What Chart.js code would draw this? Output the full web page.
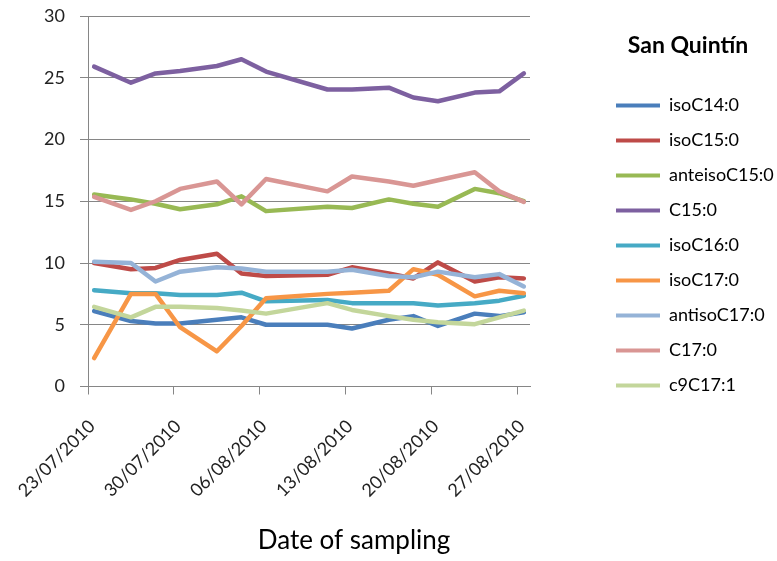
<!DOCTYPE html>
<html><head><meta charset="utf-8">
<script src="https://cdn.jsdelivr.net/npm/chart.js@4.4.1/dist/chart.umd.min.js"></script>
<style>html,body{margin:0;padding:0;background:#fff;}#wrap{position:relative;width:777px;height:561px;}</style>
</head><body><div id="wrap"><canvas id="c"></canvas></div>
<script>
const sampleDates = ['23/07/2010','26/07/2010','28/07/2010','30/07/2010','02/08/2010','04/08/2010','06/08/2010','11/08/2010','13/08/2010','16/08/2010','18/08/2010','20/08/2010','23/08/2010','25/08/2010','27/08/2010'];
const tickLabels = ['23/07/2010','30/07/2010','06/08/2010','13/08/2010','20/08/2010','27/08/2010'];
const yTicks = [0, 5, 10, 15, 20, 25, 30];

const isoC14_0     = [6.1, 5.3, 5.1, 5.1, 5.4, 5.6, 5.0, 5.0, 4.7, 5.4, 5.7, 4.9, 5.9, 5.7, 6.0];
const isoC15_0     = [10.0, 9.5, 9.6, 10.25, 10.75, 9.15, 8.95, 9.05, 9.65, 9.15, 8.75, 10.05, 8.5, 8.85, 8.75];
const anteisoC15_0 = [15.55, 15.15, 14.8, 14.35, 14.75, 15.4, 14.2, 14.55, 14.45, 15.15, 14.8, 14.55, 16.0, 15.65, 15.0];
const C15_0        = [25.9, 24.6, 25.35, 25.55, 25.95, 26.5, 25.5, 24.05, 24.05, 24.2, 23.4, 23.1, 23.8, 23.9, 25.35];
const isoC16_0     = [7.8, 7.55, 7.55, 7.4, 7.4, 7.6, 6.9, 7.0, 6.75, 6.75, 6.75, 6.55, 6.75, 6.95, 7.35];
const isoC17_0     = [2.3, 7.5, 7.5, 4.8, 2.85, 4.9, 7.15, 7.5, 7.6, 7.75, 9.5, 9.05, 7.3, 7.75, 7.55];
const antisoC17_0  = [10.1, 10.0, 8.5, 9.3, 9.65, 9.55, 9.3, 9.3, 9.45, 8.95, 8.85, 9.3, 8.85, 9.1, 8.1];
const C17_0        = [15.35, 14.3, 15.0, 16.0, 16.6, 14.75, 16.8, 15.8, 17.0, 16.6, 16.25, 16.7, 17.35, 15.8, 14.95];
const c9C17_1      = [6.45, 5.6, 6.45, 6.45, 6.35, 6.15, 5.9, 6.75, 6.2, 5.7, 5.4, 5.2, 5.05, 5.6, 6.15];

const seriesNames  = ['isoC14:0','isoC15:0','anteisoC15:0','C15:0','isoC16:0','isoC17:0','antisoC17:0','C17:0','c9C17:1'];
const seriesValues = [isoC14_0, isoC15_0, anteisoC15_0, C15_0, isoC16_0, isoC17_0, antisoC17_0, C17_0, c9C17_1];
const seriesColors = ['#4A7EBB','#BE4B48','#98B954','#7D60A0','#46AAC5','#F79646','#95B3D7','#D99694','#C3D69B'];
const legendTitle = 'San Quintín';
const xAxisTitle = 'Date of sampling';

function dayNumber(s) { const p = s.split('/').map(Number); return Date.UTC(p[2], p[1] - 1, p[0]) / 86400000; }
const origin = dayNumber(tickLabels[0]);
const xDays = sampleDates.map(s => dayNumber(s) - origin);
const tickPositions = tickLabels.map(s => dayNumber(s) - origin - 0.5);

const gridColor = '#868686';
const FONT = 'Lato';

const datasets = seriesNames.map((name, i) => ({
  label: name,
  data: xDays.map((x, j) => ({ x: x, y: seriesValues[i][j] })),
  borderColor: seriesColors[i],
  backgroundColor: seriesColors[i],
  borderWidth: 4.5,
  pointRadius: 0,
  pointHoverRadius: 0,
  tension: 0,
  borderJoinStyle: 'round',
  borderCapStyle: 'round',
  fill: false,
  order: seriesNames.length - i
}));

const axisTitlePlugin = {
  id: 'axisTitlePlugin',
  afterDraw(chart) {
    const ctx = chart.ctx;
    ctx.save();
    ctx.font = '26px ' + FONT;
    ctx.fillStyle = '#000';
    ctx.textAlign = 'center';
    ctx.textBaseline = 'alphabetic';
    ctx.fillText(xAxisTitle, 354, 549);
    ctx.restore();
  }
};

new Chart(document.getElementById('c'), {
  type: 'line',
  data: { datasets: datasets },
  plugins: [axisTitlePlugin],
  options: {
    responsive: true,
    maintainAspectRatio: false,
    animation: false,
    devicePixelRatio: 1,
    layout: { padding: { top: 16, left: 0, right: 0, bottom: 0 } },
    plugins: {
      tooltip: { enabled: false },
      legend: {
        position: 'right',
        align: 'start',
        maxWidth: 178,
        title: {
          display: true,
          text: legendTitle,
          color: '#000',
          font: { family: FONT, size: 23, weight: 'bold' },
          padding: { top: 18, bottom: 18 }
        },
        labels: {
          color: '#000',
          font: { family: FONT, size: 18 },
          boxWidth: 44,
          boxHeight: 4,
          padding: 17,
          sort: (a, b) => a.datasetIndex - b.datasetIndex,
          generateLabels(chart) {
            const items = Chart.defaults.plugins.legend.labels.generateLabels(chart);
            items.forEach(it => { it.fillStyle = it.strokeStyle; it.lineWidth = 0; });
            return items;
          }
        }
      }
    },
    scales: {
      x: {
        type: 'linear',
        min: tickPositions[0],
        max: tickPositions[tickPositions.length - 1] + 1,
        afterBuildTicks(scale) { scale.ticks = tickPositions.map(v => ({ value: v })); },
        afterFit(scale) { scale.height = 174.5; scale.paddingLeft = 0; scale.paddingRight = 0; },
        grid: { display: true, drawOnChartArea: false, drawTicks: true, tickLength: 8, color: gridColor },
        border: { display: true, color: gridColor, width: 1 },
        ticks: {
          autoSkip: false,
          minRotation: 45,
          maxRotation: 45,
          padding: 21,
          labelOffset: 4,
          color: '#222',
          font: { family: FONT, size: 18 },
          callback: (value, index) => tickLabels[index]
        }
      },
      y: {
        position: 'left',
        min: yTicks[0],
        max: yTicks[yTicks.length - 1],
        afterBuildTicks(scale) { scale.ticks = yTicks.map(v => ({ value: v })); },
        afterFit(scale) { scale.width = 88; scale.paddingTop = 0; scale.paddingBottom = 0; },
        grid: { color: gridColor, lineWidth: 1, drawTicks: true, tickLength: 8 },
        border: { display: true, color: gridColor, width: 1 },
        ticks: { padding: 15, color: '#222', font: { family: FONT, size: 18 } }
      },
      ySpacer: {
        position: 'right',
        display: true,
        afterFit(scale) { scale.width = 69; scale.paddingTop = 0; scale.paddingBottom = 0; },
        grid: { display: false, drawTicks: false },
        border: { display: false },
        ticks: { display: false }
      }
    }
  }
});
</script>
</body></html>
